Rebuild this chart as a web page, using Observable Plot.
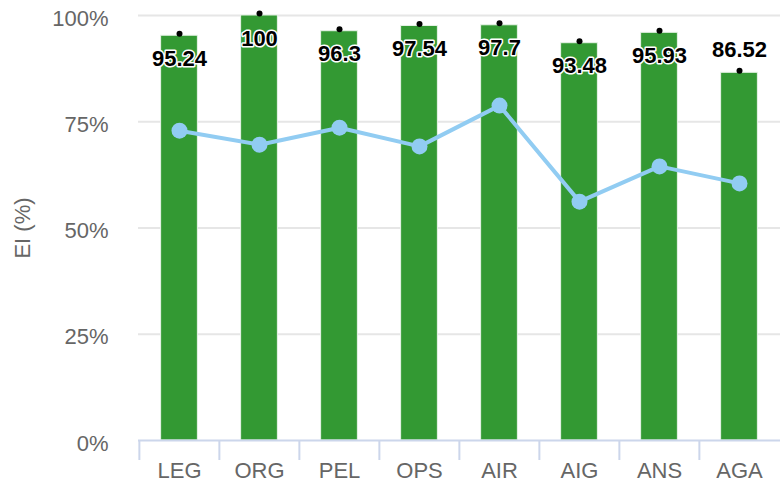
<!DOCTYPE html>
<html>
<head>
<meta charset="utf-8">
<script src="https://cdn.jsdelivr.net/npm/d3@7"></script>
<script src="https://cdn.jsdelivr.net/npm/@observablehq/plot@0.6"></script>
<style>
  html, body { margin: 0; padding: 0; background: #fff; }
  #chart svg { display: block; }
</style>
</head>
<body>
<div id="chart"></div>
<script>
const categories = ["LEG", "ORG", "PEL", "OPS", "AIR", "AIG", "ANS", "AGA"];
const barValues = [95.24, 100, 96.3, 97.54, 97.7, 93.48, 95.93, 86.52];
const lineValues = [72.9, 69.6, 73.6, 69.2, 78.8, 56.2, 64.5, 60.5];
const yTicks = [0, 25, 50, 75, 100];

const data = categories.map((c, i) => ({cat: c, bar: barValues[i], line: lineValues[i]}));

const W = 780, H = 482;
const mL = 138, mR = 0, mT = 15, mB = 42;
const step = (W - mL - mR) / categories.length;
const barW = 37;
const inset = (step - barW) / 2;
const font = "'Liberation Sans', Arial, Helvetica, sans-serif";

const labelStyle = {x: "cat", y: "bar", text: d => String(d.bar), fontSize: 22, fontWeight: "bold", fill: "#000",
  stroke: "#fff", strokeWidth: 3, paintOrder: "stroke"};

const chart = Plot.plot({
  width: W,
  height: H,
  marginLeft: mL,
  marginRight: mR,
  marginTop: mT,
  marginBottom: mB,
  style: {fontFamily: font, background: "#fff"},
  x: {type: "band", domain: categories, padding: 0},
  y: {domain: [0, 100]},
  marks: [
    Plot.ruleY(yTicks.filter(d => d > 0), {stroke: "#e6e6e6", strokeWidth: 2}),
    Plot.barY(data, {x: "cat", y: "bar", fill: "#339933", stroke: "#e8f3e8", strokeWidth: 1, insetLeft: inset, insetRight: inset}),
    Plot.ruleY([0], {stroke: "#ccd6eb", strokeWidth: 2}),
    Plot.ruleX(categories, {x: d => d, dx: -step / 2, y1: 0, y2: 0, insetBottom: -20, stroke: "#ccd6eb", strokeWidth: 2}),
    Plot.axisX({tickSize: 0, tickPadding: 22, fontSize: 22, fill: "#666", label: null}),
    Plot.axisY({ticks: yTicks, tickFormat: d => d + "%", tickSize: 0, tickPadding: 30, fontSize: 22, fill: "#666", dy: 3,
      label: "EI (%)", labelAnchor: "center", labelArrow: "none", labelOffset: 124}),
    Plot.line(data, {x: "cat", y: "line", stroke: "#91ccf2", strokeWidth: 4}),
    Plot.dot(data, {x: "cat", y: "line", r: 8, fill: "#91ccf2", stroke: "none"}),
    Plot.dot(data, {x: "cat", y: "bar", r: 3, fill: "#000", dy: -2}),
    Plot.text(data, {...labelStyle, filter: d => d.bar > 90, dy: 23}),
    Plot.text(data, {...labelStyle, filter: d => d.bar <= 90, dy: -23})
  ]
});
document.getElementById("chart").appendChild(chart);
</script>
</body>
</html>
